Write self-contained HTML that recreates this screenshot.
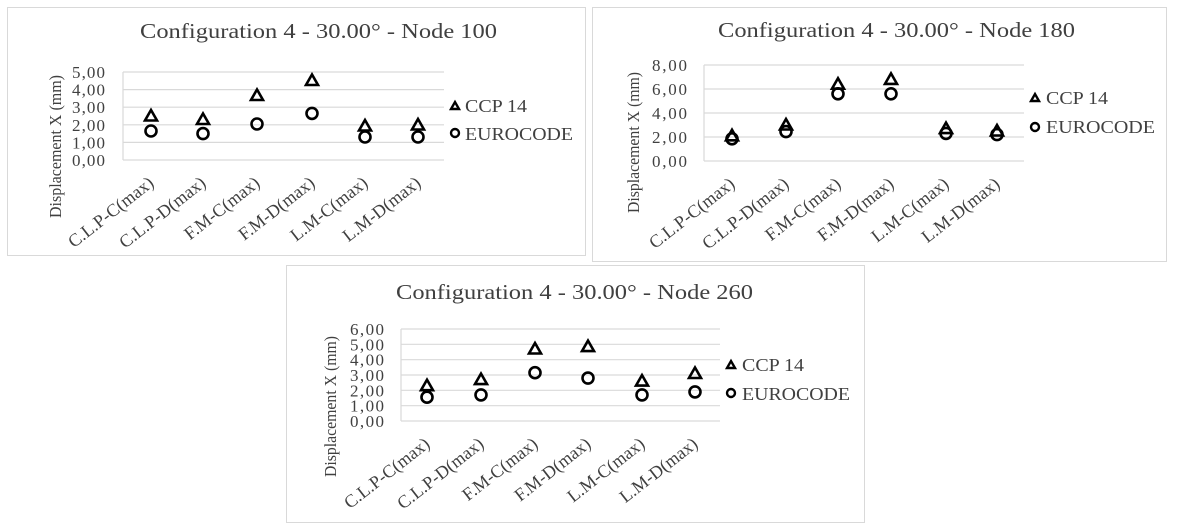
<!DOCTYPE html>
<html><head><meta charset="utf-8"><style>
html,body{margin:0;padding:0;background:#fff;width:1181px;height:531px;overflow:hidden}
text{font-family:"Liberation Serif",serif;fill:#404040}
.t{font-size:21px}
.k{font-size:17px}
.l{font-size:18px}
.c{font-size:18px}
.g{stroke:#d9d9d9;stroke-width:1.2}
.m{fill:none;stroke:#000;stroke-width:2.6}
</style></head><body>
<svg width="1181" height="531" viewBox="0 0 1181 531" xmlns="http://www.w3.org/2000/svg">
<defs>
<polygon id="tri" points="-6,4.5 6,4.5 0,-6" class="m"/>
<circle id="cir" cx="0" cy="0" r="5.5" class="m"/>
</defs>
<!-- Chart 1 -->
<rect x="7.5" y="7.5" width="578" height="248" fill="#fff" stroke="#d9d9d9"/>
<text class="t" x="140" y="38" textLength="357" lengthAdjust="spacingAndGlyphs">Configuration 4 - 30.00° - Node 100</text>
<g class="g"><line x1="123" x2="444" y1="72" y2="72"/><line x1="123" x2="444" y1="89.6" y2="89.6"/><line x1="123" x2="444" y1="107.2" y2="107.2"/><line x1="123" x2="444" y1="124.8" y2="124.8"/><line x1="123" x2="444" y1="142.4" y2="142.4"/><line x1="123" x2="444" y1="160" y2="160"/><line x1="123" x2="123" y1="72" y2="160"/></g>
<g class="k"><text x="72" y="78" textLength="33">5,00</text><text x="72" y="95.6" textLength="33">4,00</text><text x="72" y="113.2" textLength="33">3,00</text><text x="72" y="130.8" textLength="33">2,00</text><text x="72" y="148.4" textLength="33">1,00</text><text x="72" y="166" textLength="33">0,00</text></g>
<text class="k" transform="translate(61,218) rotate(-90)" textLength="143" lengthAdjust="spacingAndGlyphs">Displacement X (mm)</text>
<g class="c" text-anchor="end">
<text transform="translate(155,185) rotate(-38)">C.L.P-C(max)</text>
<text transform="translate(207,185) rotate(-38)">C.L.P-D(max)</text>
<text transform="translate(261,185) rotate(-38)">F.M-C(max)</text>
<text transform="translate(316,185) rotate(-38)">F.M-D(max)</text>
<text transform="translate(369,185) rotate(-38)">L.M-C(max)</text>
<text transform="translate(422,185) rotate(-38)">L.M-D(max)</text>
</g>
<use href="#tri" x="151" y="116"/><use href="#tri" x="203" y="119.5"/><use href="#tri" x="257" y="95.5"/><use href="#tri" x="312" y="80.5"/><use href="#tri" x="365" y="126"/><use href="#tri" x="418" y="125"/>
<use href="#cir" x="151" y="131"/><use href="#cir" x="203" y="133.6"/><use href="#cir" x="257" y="124"/><use href="#cir" x="312" y="113.4"/><use href="#cir" x="365" y="137"/><use href="#cir" x="418" y="137"/>
<polygon points="451,109 459,109 455,102" class="m" style="stroke-width:2.4"/><circle cx="455" cy="133" r="4" class="m" style="stroke-width:2.4"/>
<text class="l" x="465" y="112" textLength="62" lengthAdjust="spacingAndGlyphs">CCP 14</text><text class="l" x="465" y="140" textLength="108" lengthAdjust="spacingAndGlyphs">EUROCODE</text>

<!-- Chart 2 -->
<rect x="592.5" y="7.5" width="574" height="254" fill="#fff" stroke="#d9d9d9"/>
<text class="t" x="718" y="37" textLength="357" lengthAdjust="spacingAndGlyphs">Configuration 4 - 30.00° - Node 180</text>
<g class="g"><line x1="704" x2="1024" y1="65" y2="65"/><line x1="704" x2="1024" y1="89" y2="89"/><line x1="704" x2="1024" y1="113" y2="113"/><line x1="704" x2="1024" y1="137" y2="137"/><line x1="704" x2="1024" y1="161" y2="161"/><line x1="704" x2="704" y1="65" y2="161"/></g>
<g class="k"><text x="652" y="71" textLength="35">8,00</text><text x="652" y="95" textLength="35">6,00</text><text x="652" y="119" textLength="35">4,00</text><text x="652" y="143" textLength="35">2,00</text><text x="652" y="167" textLength="35">0,00</text></g>
<text class="k" transform="translate(639,213) rotate(-90)" textLength="141" lengthAdjust="spacingAndGlyphs">Displacement X (mm)</text>
<g class="c" text-anchor="end">
<text transform="translate(736,186) rotate(-38)">C.L.P-C(max)</text>
<text transform="translate(790,186) rotate(-38)">C.L.P-D(max)</text>
<text transform="translate(842,186) rotate(-38)">F.M-C(max)</text>
<text transform="translate(895,186) rotate(-38)">F.M-D(max)</text>
<text transform="translate(950,186) rotate(-38)">L.M-C(max)</text>
<text transform="translate(1001,186) rotate(-38)">L.M-D(max)</text>
</g>
<use href="#tri" x="732" y="135.8"/><use href="#tri" x="786" y="125"/><use href="#tri" x="838" y="84.2"/><use href="#tri" x="891" y="79.4"/><use href="#tri" x="946" y="128.6"/><use href="#tri" x="997" y="131"/>
<use href="#cir" x="732" y="138.8"/><use href="#cir" x="786" y="131.6"/><use href="#cir" x="838" y="93.8"/><use href="#cir" x="891" y="93.8"/><use href="#cir" x="946" y="133.4"/><use href="#cir" x="997" y="134.6"/>
<polygon points="1031,101 1039,101 1035,94" class="m" style="stroke-width:2.4"/><circle cx="1035" cy="127" r="4" class="m" style="stroke-width:2.4"/>
<text class="l" x="1046" y="104" textLength="62" lengthAdjust="spacingAndGlyphs">CCP 14</text><text class="l" x="1046" y="133" textLength="109" lengthAdjust="spacingAndGlyphs">EUROCODE</text>

<!-- Chart 3 -->
<rect x="286.5" y="265.5" width="578" height="257" fill="#fff" stroke="#d9d9d9"/>
<text class="t" x="396" y="299" textLength="357" lengthAdjust="spacingAndGlyphs">Configuration 4 - 30.00° - Node 260</text>
<g class="g"><line x1="401" x2="720" y1="329" y2="329"/><line x1="401" x2="720" y1="344.3" y2="344.3"/><line x1="401" x2="720" y1="359.7" y2="359.7"/><line x1="401" x2="720" y1="375" y2="375"/><line x1="401" x2="720" y1="390.3" y2="390.3"/><line x1="401" x2="720" y1="405.7" y2="405.7"/><line x1="401" x2="720" y1="421" y2="421"/><line x1="401" x2="401" y1="329" y2="421"/></g>
<g class="k"><text x="350" y="335" textLength="34">6,00</text><text x="350" y="350.3" textLength="34">5,00</text><text x="350" y="365.7" textLength="34">4,00</text><text x="350" y="381" textLength="34">3,00</text><text x="350" y="396.3" textLength="34">2,00</text><text x="350" y="411.7" textLength="34">1,00</text><text x="350" y="427" textLength="34">0,00</text></g>
<text class="k" transform="translate(336,477) rotate(-90)" textLength="141" lengthAdjust="spacingAndGlyphs">Displacement X (mm)</text>
<g class="c" text-anchor="end">
<text transform="translate(431,446) rotate(-38)">C.L.P-C(max)</text>
<text transform="translate(485,446) rotate(-38)">C.L.P-D(max)</text>
<text transform="translate(539,446) rotate(-38)">F.M-C(max)</text>
<text transform="translate(592,446) rotate(-38)">F.M-D(max)</text>
<text transform="translate(646,446) rotate(-38)">L.M-C(max)</text>
<text transform="translate(699,446) rotate(-38)">L.M-D(max)</text>
</g>
<use href="#tri" x="427" y="385.7"/><use href="#tri" x="481" y="379.6"/><use href="#tri" x="535" y="349"/><use href="#tri" x="588" y="346.6"/><use href="#tri" x="642" y="381.1"/><use href="#tri" x="695" y="373.5"/>
<use href="#cir" x="427" y="397.2"/><use href="#cir" x="481" y="394.9"/><use href="#cir" x="535" y="372.7"/><use href="#cir" x="588" y="378.1"/><use href="#cir" x="642" y="394.9"/><use href="#cir" x="695" y="391.9"/>
<polygon points="727,368 735,368 731,361" class="m" style="stroke-width:2.4"/><circle cx="731" cy="393" r="4" class="m" style="stroke-width:2.4"/>
<text class="l" x="742" y="371" textLength="62" lengthAdjust="spacingAndGlyphs">CCP 14</text><text class="l" x="742" y="400" textLength="108" lengthAdjust="spacingAndGlyphs">EUROCODE</text>
</svg>
</body></html>
